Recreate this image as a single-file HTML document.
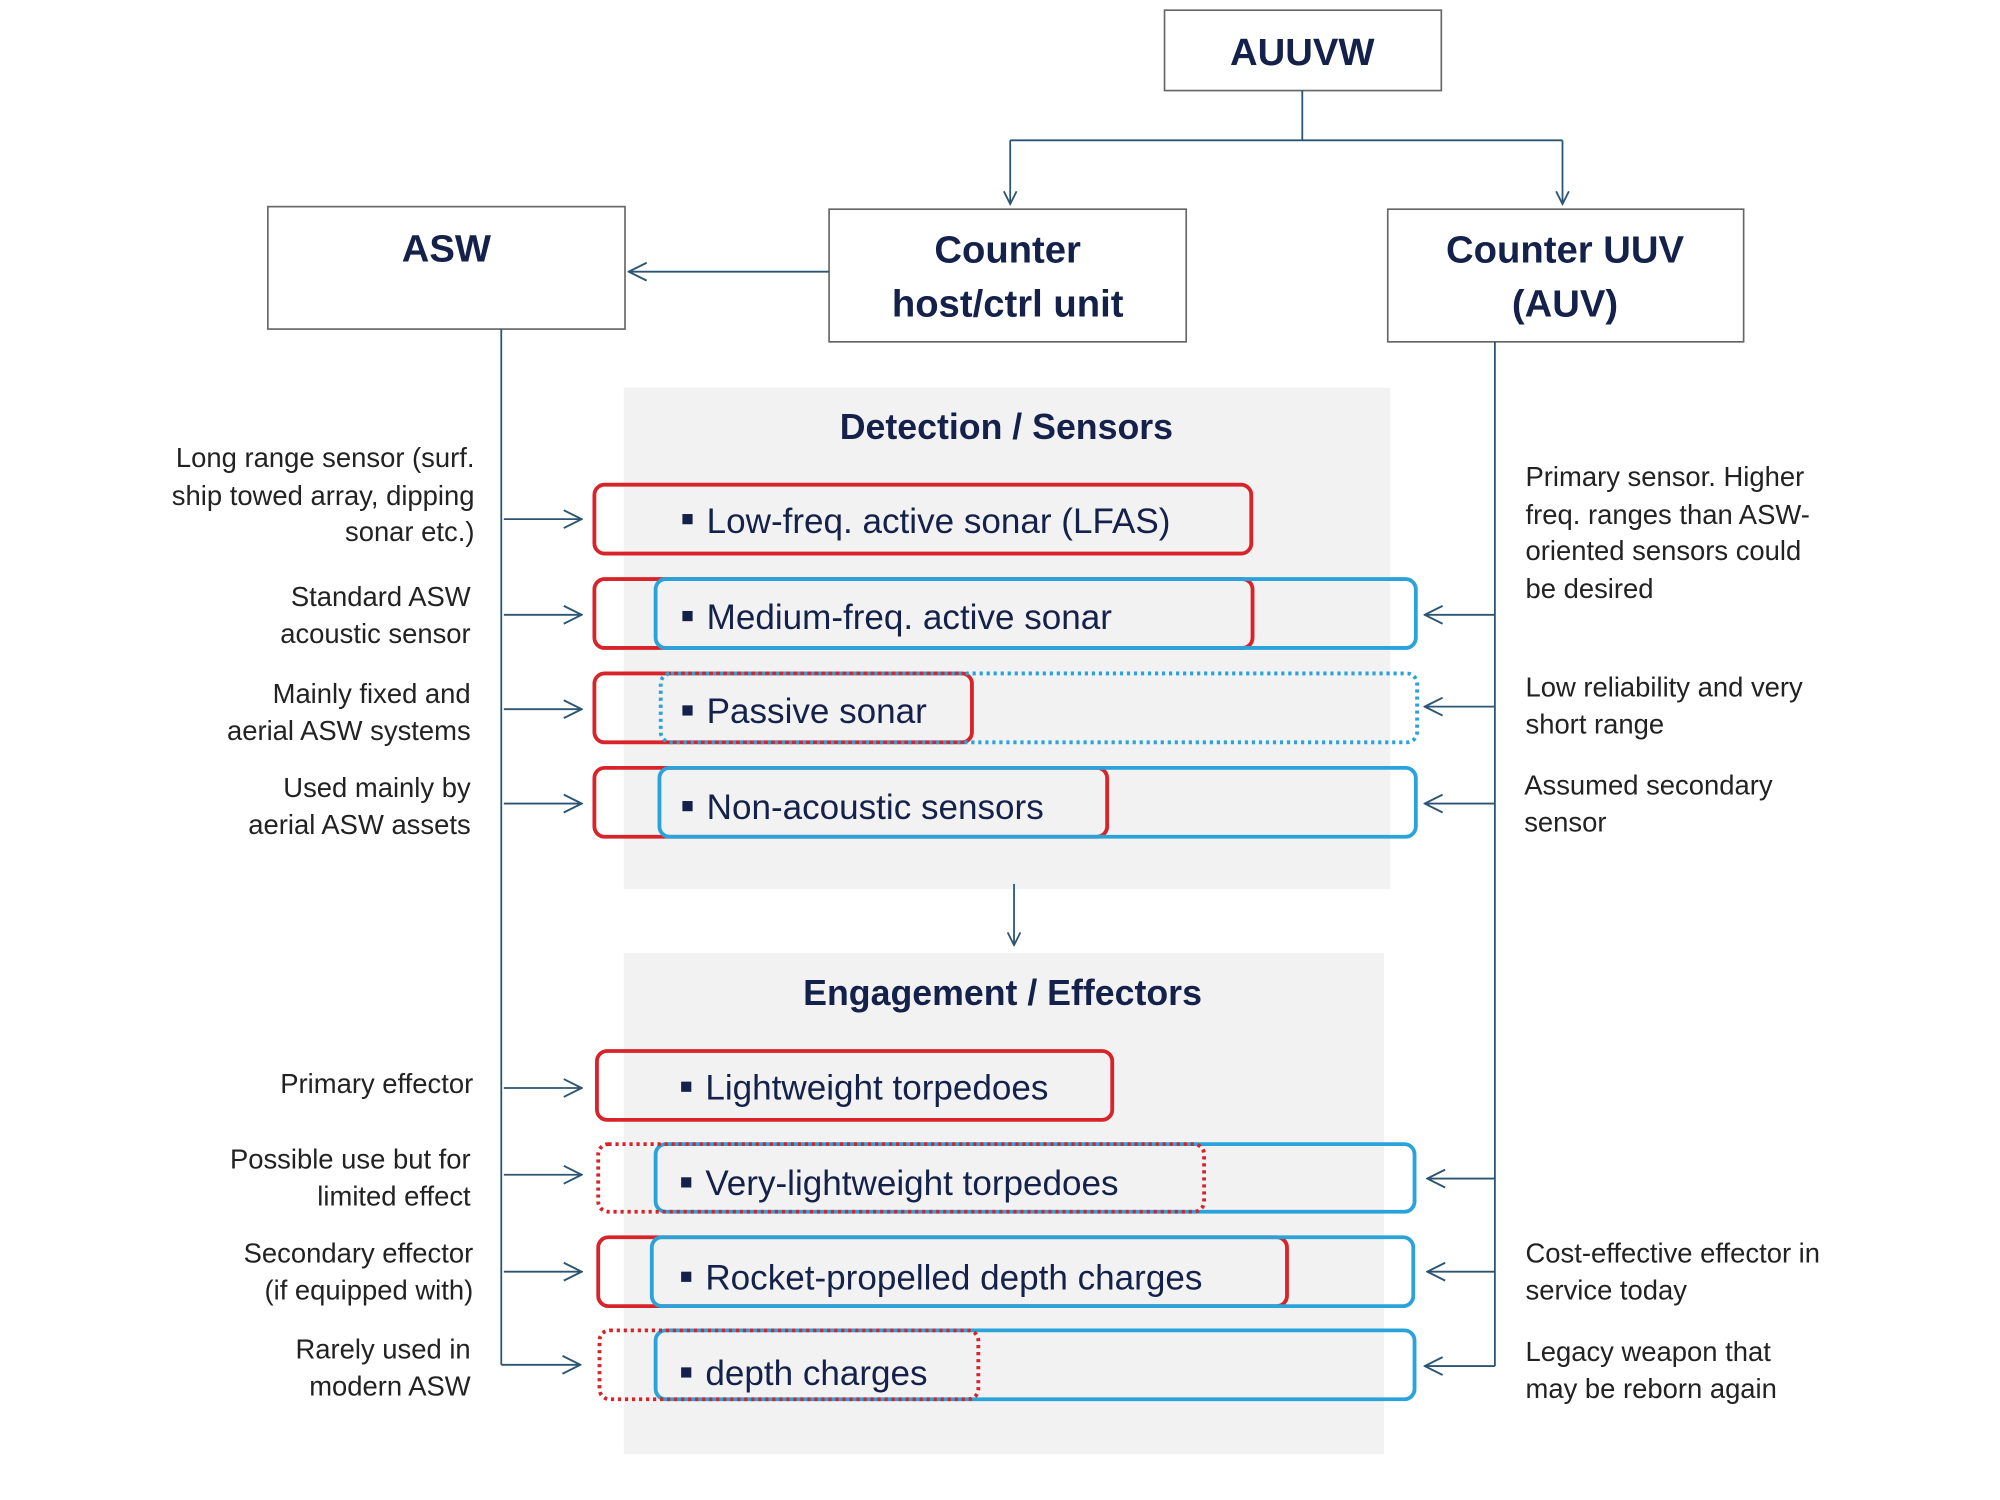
<!DOCTYPE html>
<html><head><meta charset="utf-8"><style>
html,body{margin:0;padding:0;background:#fff;}
svg{display:block;}
text{font-family:"Liberation Sans",sans-serif;}
</style></head><body>
<svg width="2000" height="1500" viewBox="0 0 1568 1176" preserveAspectRatio="none" xmlns="http://www.w3.org/2000/svg">
<defs>
<marker id="ah" viewBox="0 0 12 12" refX="11" refY="6" markerWidth="12" markerHeight="12" markerUnits="userSpaceOnUse" orient="auto">
<path d="M1,1 L11,6 L1,11" fill="none" stroke="#2b5573" stroke-width="1.4"/>
</marker>
<marker id="ah2" viewBox="0 0 16 16" refX="15" refY="8" markerWidth="16" markerHeight="16" markerUnits="userSpaceOnUse" orient="auto">
<path d="M1,1 L15,8 L1,15" fill="none" stroke="#2b5573" stroke-width="1.5"/>
</marker>
</defs>
<rect width="1568" height="1176" fill="#fff"/>
<rect x="489" y="304" width="601" height="393" fill="#f2f2f2"/>
<rect x="489" y="747" width="596" height="393" fill="#f2f2f2"/>
<g fill="#fff" stroke="#666" stroke-width="1.3">
<rect x="913" y="8" width="217" height="63"/>
<rect x="210" y="162" width="280" height="96"/>
<rect x="650" y="164" width="280" height="104"/>
<rect x="1088" y="164" width="279" height="104"/>
</g>
<g fill="#14214a" font-weight="bold" font-size="30" text-anchor="middle">
<text x="1021" y="51">AUUVW</text>
<text x="350" y="205">ASW</text>
<text x="790" y="206">Counter</text>
<text x="790" y="248">host/ctrl unit</text>
<text x="1227" y="206">Counter UUV</text>
<text x="1227" y="248">(AUV)</text>
</g>
<g fill="none" stroke="#2b5573" stroke-width="1.4">
<path d="M1021,71 V110 M792,110 H1225"/>
<path d="M792,110 V160" marker-end="url(#ah)"/>
<path d="M1225,110 V160" marker-end="url(#ah)"/>
<path d="M650,213 H493" marker-end="url(#ah2)"/>
<path d="M393,258 V1070"/>
<path d="M1172,268 V1071"/>
<path d="M795,693 V741" marker-end="url(#ah)"/>
<path d="M395,407 H456" marker-end="url(#ah2)"/>
<path d="M395,482 H456" marker-end="url(#ah2)"/>
<path d="M395,556 H456" marker-end="url(#ah2)"/>
<path d="M395,630 H456" marker-end="url(#ah2)"/>
<path d="M395,853 H456" marker-end="url(#ah2)"/>
<path d="M395,921 H456" marker-end="url(#ah2)"/>
<path d="M395,997 H456" marker-end="url(#ah2)"/>
<path d="M393,1070 H455" marker-end="url(#ah2)"/>
<path d="M1172,482 H1117" marker-end="url(#ah2)"/>
<path d="M1172,554 H1117" marker-end="url(#ah2)"/>
<path d="M1172,630 H1117" marker-end="url(#ah2)"/>
<path d="M1172,924 H1119" marker-end="url(#ah2)"/>
<path d="M1172,997 H1119" marker-end="url(#ah2)"/>
<path d="M1172,1071 H1117" marker-end="url(#ah2)"/>
</g>
<g fill="#14214a" font-weight="bold" font-size="28" text-anchor="middle">
<text x="789" y="344">Detection / Sensors</text>
<text x="786" y="788">Engagement / Effectors</text>
</g>
<g fill="none" stroke-width="3">
<rect x="466" y="380" width="515" height="54" rx="8" stroke="#d8232a"/>
<rect x="466" y="454" width="516" height="54" rx="8" stroke="#d8232a"/>
<rect x="514" y="454" width="596" height="54" rx="8" stroke="#29a3da"/>
<rect x="466" y="528" width="296" height="54" rx="8" stroke="#d8232a"/>
<rect x="518" y="528" width="593" height="54" rx="8" stroke="#29a3da" stroke-dasharray="2.5 3"/>
<rect x="466" y="602" width="402" height="54" rx="8" stroke="#d8232a"/>
<rect x="517" y="602" width="593" height="54" rx="8" stroke="#29a3da"/>
<rect x="468" y="824" width="404" height="54" rx="8" stroke="#d8232a"/>
<rect x="514" y="897" width="595" height="53" rx="8" stroke="#29a3da"/>
<rect x="469" y="897" width="475" height="53" rx="8" stroke="#d8232a" stroke-dasharray="2.5 3"/>
<rect x="469" y="970" width="540" height="54" rx="8" stroke="#d8232a"/>
<rect x="511" y="970" width="597" height="54" rx="8" stroke="#29a3da"/>
<rect x="514" y="1043" width="595" height="54" rx="8" stroke="#29a3da"/>
<rect x="470" y="1043" width="297" height="54" rx="8" stroke="#d8232a" stroke-dasharray="2.5 3"/>
</g>
<g fill="#14214a" font-size="27.5">
<rect x="535" y="403" width="8" height="8"/><text x="554" y="418">Low-freq. active sonar (LFAS)</text>
<rect x="535" y="479" width="8" height="8"/><text x="554" y="493">Medium-freq. active sonar</text>
<rect x="535" y="553" width="8" height="8"/><text x="554" y="567">Passive sonar</text>
<rect x="535" y="628" width="8" height="8"/><text x="554" y="642">Non-acoustic sensors</text>
<rect x="534" y="848" width="8" height="8"/><text x="553" y="862">Lightweight torpedoes</text>
<rect x="534" y="923" width="8" height="8"/><text x="553" y="937">Very-lightweight torpedoes</text>
<rect x="534" y="997" width="8" height="8"/><text x="553" y="1011">Rocket-propelled depth charges</text>
<rect x="534" y="1072" width="8" height="8"/><text x="553" y="1086">depth charges</text>
</g>
<g fill="#222" font-size="21.5" text-anchor="end">
<text x="372" y="366">Long range sensor (surf.</text>
<text x="372" y="396">ship towed array, dipping</text>
<text x="372" y="424">sonar etc.)</text>
<text x="369" y="475">Standard ASW</text>
<text x="369" y="504">acoustic sensor</text>
<text x="369" y="551">Mainly fixed and</text>
<text x="369" y="580">aerial ASW systems</text>
<text x="369" y="625">Used mainly by</text>
<text x="369" y="654">aerial ASW assets</text>
<text x="371" y="857">Primary effector</text>
<text x="369" y="916">Possible use but for</text>
<text x="369" y="945">limited effect</text>
<text x="371" y="990">Secondary effector</text>
<text x="371" y="1019">(if equipped with)</text>
<text x="369" y="1065">Rarely used in</text>
<text x="369" y="1094">modern ASW</text>
</g>
<g fill="#222" font-size="21.5">
<text x="1196" y="381">Primary sensor. Higher</text>
<text x="1196" y="411">freq. ranges than ASW-</text>
<text x="1196" y="439">oriented sensors could</text>
<text x="1196" y="469">be desired</text>
<text x="1196" y="546">Low reliability and very</text>
<text x="1196" y="575">short range</text>
<text x="1195" y="623">Assumed secondary</text>
<text x="1195" y="652">sensor</text>
<text x="1196" y="990">Cost-effective effector in</text>
<text x="1196" y="1019">service today</text>
<text x="1196" y="1067">Legacy weapon that</text>
<text x="1196" y="1096">may be reborn again</text>
</g>
</svg>
</body></html>
